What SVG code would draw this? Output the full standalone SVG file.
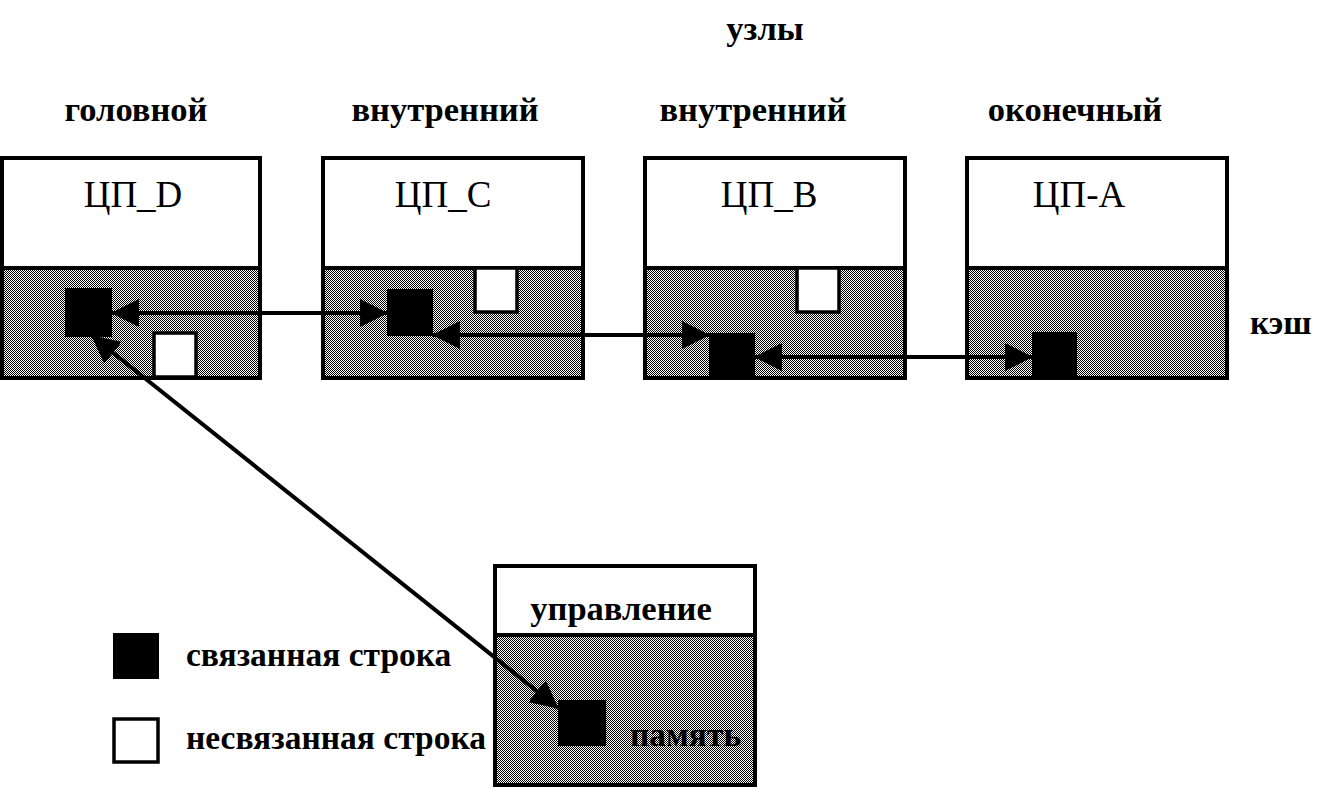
<svg xmlns="http://www.w3.org/2000/svg" width="1322" height="790" viewBox="0 0 1322 790">
  <style>
    text { font-family: "Liberation Serif", "Times New Roman", serif; font-size: 37px; fill: #000; }
    .h { font-weight: bold; font-size: 34.5px; }
    .l { font-weight: bold; font-size: 33.5px; }
    .frame { fill: #fff; stroke: #000; stroke-width: 4; }
    .cache { fill: url(#dither); stroke: #000; stroke-width: 4; }
    .lnk { fill: #000; }
    .unl { fill: #fff; stroke: #000; stroke-width: 3.5; }
    .con { fill: none; stroke: #000; stroke-width: 4; marker-start: url(#ah); marker-end: url(#ah); }
  </style>
  <defs>
    <pattern id="dither" patternUnits="userSpaceOnUse" width="2" height="2">
      <rect width="2" height="2" fill="#fff"/>
      <rect x="0" y="0" width="1" height="1" fill="#000"/>
      <rect x="1" y="1" width="1" height="1" fill="#000"/>
    </pattern>
    <marker id="ah" markerUnits="userSpaceOnUse" markerWidth="28" markerHeight="28" viewBox="0 0 26 26" refX="25" refY="13" orient="auto-start-reverse">
      <path d="M0,0 L26,13 L0,26 z" fill="#000"/>
    </marker>
  </defs>
  <rect width="1322" height="790" fill="#fff"/>

  <g id="titles">
    <text x="765" y="40" text-anchor="middle" class="h">узлы</text>
    <text x="136" y="121" text-anchor="middle" class="h">головной</text>
    <text x="445" y="121" text-anchor="middle" class="h">внутренний</text>
    <text x="753" y="121" text-anchor="middle" class="h">внутренний</text>
    <text x="1075" y="121" text-anchor="middle" class="h">оконечный</text>
    <text x="1250" y="334" class="l">кэш</text>
  </g>

  <g id="node-D">
    <rect class="frame" x="2" y="158" width="258" height="110"/>
    <rect class="cache" x="2" y="268" width="258" height="110"/>
    <text x="133" y="207" text-anchor="middle">ЦП_D</text>
    <rect class="lnk" x="65" y="288" width="47" height="49"/>
    <rect class="unl" x="154" y="333" width="42" height="44"/>
  </g>

  <g id="node-C">
    <rect class="frame" x="323" y="158" width="260" height="110"/>
    <rect class="cache" x="323" y="268" width="260" height="110"/>
    <text x="443" y="207" text-anchor="middle">ЦП_C</text>
    <rect class="lnk" x="387" y="289" width="46" height="47"/>
    <rect class="unl" x="475" y="268" width="42" height="44"/>
  </g>

  <g id="node-B">
    <rect class="frame" x="645" y="158" width="260" height="110"/>
    <rect class="cache" x="645" y="268" width="260" height="110"/>
    <text x="769" y="207" text-anchor="middle">ЦП_B</text>
    <rect class="lnk" x="709" y="333" width="46" height="45"/>
    <rect class="unl" x="797" y="268" width="42" height="44"/>
  </g>

  <g id="node-A">
    <rect class="frame" x="967" y="158" width="260" height="110"/>
    <rect class="cache" x="967" y="268" width="260" height="110"/>
    <text x="1079" y="207" text-anchor="middle">ЦП-А</text>
    <rect class="lnk" x="1032" y="332" width="45" height="47"/>
  </g>

  <g id="node-memory">
    <rect class="frame" x="495" y="566" width="260" height="69"/>
    <rect class="cache" x="495" y="635" width="260" height="150"/>
    <text x="621" y="620" text-anchor="middle" class="h">управление</text>
    <rect class="lnk" x="558" y="700" width="48" height="46"/>
    <text x="630" y="746" class="l">память</text>
  </g>

  <g id="legend">
    <rect class="lnk" x="113" y="633" width="46" height="46"/>
    <text x="186" y="666" class="l">связанная строка</text>
    <rect class="unl" x="114" y="719" width="44" height="43"/>
    <text x="186" y="749" class="l">несвязанная строка</text>
  </g>

  <g id="connectors">
    <line class="con" x1="112" y1="313" x2="387" y2="313"/>
    <line class="con" x1="433" y1="335" x2="709" y2="335"/>
    <line class="con" x1="755" y1="357" x2="1032" y2="357"/>
    <line class="con" x1="92" y1="336" x2="558" y2="708"/>
  </g>
</svg>
